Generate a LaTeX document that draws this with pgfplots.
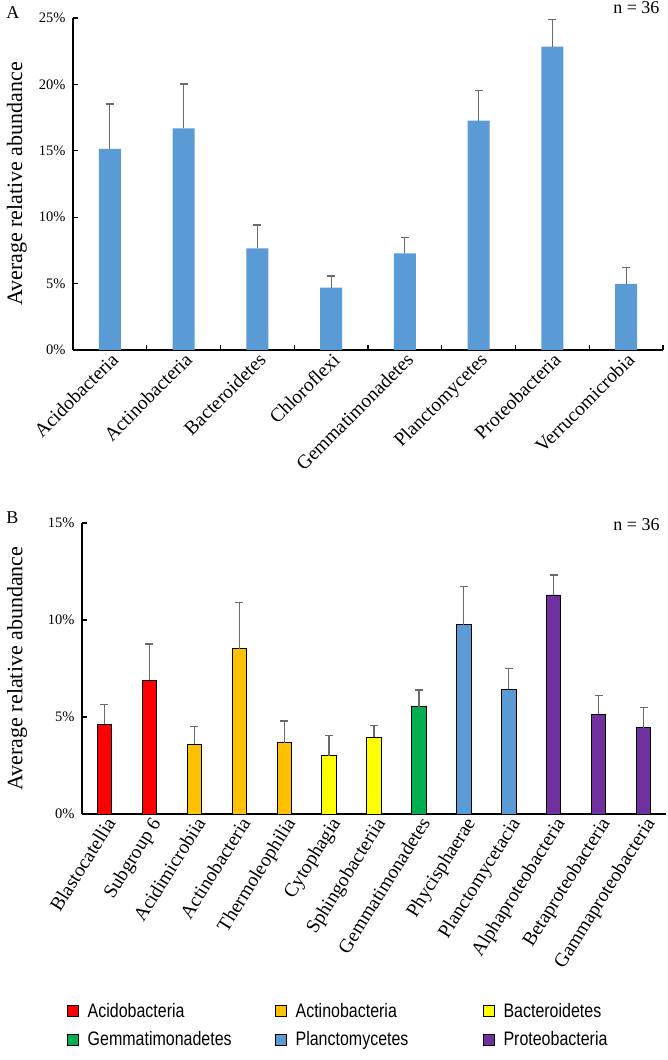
\documentclass[border=0pt]{standalone}
\usepackage{fontspec}
\setmainfont{Liberation Serif}
\newfontfamily\legendfont[FakeStretch=0.82]{Liberation Sans}
\usepackage{pgfplots}
\pgfplotsset{compat=1.18}
\definecolor{barblue}{HTML}{5B9BD5}
\definecolor{acido}{HTML}{FF0000}
\definecolor{actino}{HTML}{FFC000}
\definecolor{bactero}{HTML}{FFFF00}
\definecolor{gemma}{HTML}{00B050}
\definecolor{plancto}{HTML}{5B9BD5}
\definecolor{proteo}{HTML}{7030A0}
\definecolor{errgray}{HTML}{6A6A6A}
\pgfplotsset{
  mystyle/.style={
    scale only axis, anchor=south west, clip=false,
    axis x line*=bottom, axis y line*=left,
    axis line style={line width=1.4pt, black},
    tick align=inside,
    major tick length=5pt, minor tick length=5pt,
    ytick style={line width=1.2pt, black},
    major x tick style={draw=none},
    minor x tick style={line width=1.2pt, black},
    yticklabel style={font=\fontsize{14.5}{16}\selectfont, xshift=-4pt},
    ylabel style={font=\fontsize{22}{24}\selectfont},
    error bars/y dir=plus, error bars/y explicit,
    error bars/error bar style={line width=1.2pt, errgray},
    error bars/error mark options={line width=1.2pt, errgray, mark size=4pt, rotate=90},
  },
  sqleg/.style={legend image code/.code={\draw[##1, draw=black, line width=0.9pt] (0pt,-5.5pt) rectangle (11pt,5.5pt);}},
}
\begin{document}
\begin{tikzpicture}[x=1pt,y=1pt]
\path[use as bounding box] (0,0) rectangle (668,1060);
% Panel A
\begin{axis}[mystyle,
  at={(73pt,710pt)}, width=590pt, height=332pt,
  xmin=-0.5, xmax=7.5, ymin=0, ymax=25,
  xtick={0,...,7}, minor xtick={0.5,1.5,...,7.5},
  xticklabel style={rotate=45, anchor=north east, inner sep=1pt, font=\fontsize{19.5}{21}\selectfont},
  xticklabels={Acidobacteria,Actinobacteria,Bacteroidetes,Chloroflexi,Gemmatimonadetes,Planctomycetes,Proteobacteria,Verrucomicrobia},
  ytick={0,5,10,15,20,25}, yticklabels={0\%,5\%,10\%,15\%,20\%,25\%},
  ylabel={Average relative abundance},
  ylabel style={at={(axis description cs:-0.095,0.5)}, anchor=center},
]
\addplot[ybar, bar width=0.3, bar shift=0pt, fill=barblue, draw=none] coordinates {
 (0,15.14) +- (0,3.38)
 (1,16.69) +- (0,3.34)
 (2,7.66) +- (0,1.75)
 (3,4.69) +- (0,0.88)
 (4,7.28) +- (0,1.18)
 (5,17.27) +- (0,2.26)
 (6,22.84) +- (0,2.06)
 (7,4.97) +- (0,1.23)
};
\node[font=\fontsize{18}{20}\selectfont] at (rel axis cs:-0.102,1.015) {A};
\node[font=\fontsize{18}{20}\selectfont, anchor=east] at (rel axis cs:1.0,1.03) {n = 36};
\end{axis}
% Panel B
\begin{axis}[mystyle,
  at={(82pt,246pt)}, width=584pt, height=291pt,
  xmin=-0.5, xmax=12.5, ymin=0, ymax=15,
  xtick={0,...,12}, minor xtick={},
  xticklabel style={rotate=58, anchor=north east, inner sep=1pt, font=\fontsize{19.5}{21}\selectfont},
  xticklabels={Blastocatellia,Subgroup 6,Acidimicrobiia,Actinobacteria,Thermoleophilia,Cytophagia,Sphingobacteriia,Gemmatimonadetes,Phycisphaerae,Planctomycetacia,Alphaproteobacteria,Betaproteobacteria,Gammaproteobacteria},
  ytick={0,5,10,15}, yticklabels={0\%,5\%,10\%,15\%},
  ylabel={Average relative abundance},
  ylabel style={at={(axis description cs:-0.111,0.5)}, anchor=center},
  legend columns=3,
  legend style={draw=none, fill=none, inner sep=0pt, outer sep=0pt,
    at={(rel axis cs:-0.026,-0.643)}, anchor=north west,
    font=\legendfont\fontsize{19.5}{21}\selectfont, row sep=9pt,
    /tikz/every odd column/.append style={column sep=7pt}},
  legend cell align=left,
]
\addplot[ybar, bar width=0.32, bar shift=0pt, fill=acido, draw=black, line width=0.9pt, sqleg] coordinates {
 (0,4.62) +- (0,1.03)
 (1,6.89) +- (0,1.87)
};
\addlegendentry{\makebox[185pt][l]{Acidobacteria}}
\addplot[ybar, bar width=0.32, bar shift=0pt, fill=actino, draw=black, line width=0.9pt, sqleg] coordinates {
 (2,3.59) +- (0,0.91)
 (3,8.52) +- (0,2.37)
 (4,3.68) +- (0,1.11)
};
\addlegendentry{\makebox[185pt][l]{Actinobacteria}}
\addplot[ybar, bar width=0.32, bar shift=0pt, fill=bactero, draw=black, line width=0.9pt, sqleg] coordinates {
 (5,3.00) +- (0,1.04)
 (6,3.95) +- (0,0.62)
};
\addlegendentry{\makebox[185pt][l]{Bacteroidetes}}
\addplot[ybar, bar width=0.32, bar shift=0pt, fill=gemma, draw=black, line width=0.9pt, sqleg] coordinates {
 (7,5.52) +- (0,0.87)
};
\addlegendentry{\makebox[185pt][l]{Gemmatimonadetes}}
\addplot[ybar, bar width=0.32, bar shift=0pt, fill=plancto, draw=black, line width=0.9pt, sqleg] coordinates {
 (8,9.76) +- (0,1.96)
 (9,6.43) +- (0,1.08)
};
\addlegendentry{\makebox[185pt][l]{Planctomycetes}}
\addplot[ybar, bar width=0.32, bar shift=0pt, fill=proteo, draw=black, line width=0.9pt, sqleg] coordinates {
 (10,11.29) +- (0,1.03)
 (11,5.14) +- (0,0.98)
 (12,4.45) +- (0,1.05)
};
\addlegendentry{\makebox[185pt][l]{Proteobacteria}}
\node[font=\fontsize{18}{20}\selectfont] at (rel axis cs:-0.119,1.02) {B};
\node[font=\fontsize{18}{20}\selectfont, anchor=east] at (rel axis cs:0.995,0.993) {n = 36};
\end{axis}
\end{tikzpicture}
\end{document}
